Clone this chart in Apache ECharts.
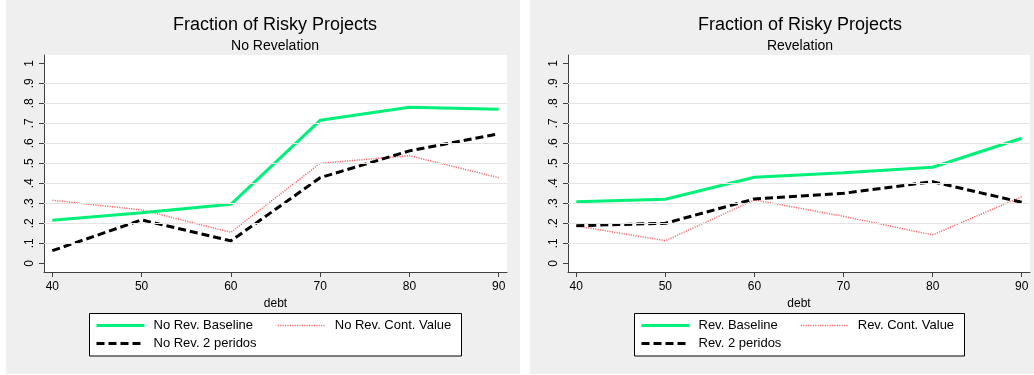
<!DOCTYPE html>
<html>
<head>
<meta charset="utf-8">
<script src="https://cdn.jsdelivr.net/npm/echarts@6/dist/echarts.min.js"></script>
<style>
  html, body { margin: 0; padding: 0; background: #ffffff; }
  #chart { width: 1034px; height: 375px; }
</style>
</head>
<body>
<div id="chart"></div>
<script>
// Debt levels on the horizontal axis
const debt = [40, 50, 60, 70, 80, 90];

// Fraction of risky projects, no revelation
const noRevBaseline = [0.215, 0.253, 0.295, 0.715, 0.780, 0.770];
const noRevContValue = [0.315, 0.267, 0.155, 0.500, 0.538, 0.428];
const noRevTwoPeriods = [0.063, 0.217, 0.112, 0.428, 0.562, 0.647];

// Fraction of risky projects, revelation
const revBaseline = [0.308, 0.320, 0.430, 0.453, 0.480, 0.625];
const revContValue = [0.187, 0.113, 0.317, 0.235, 0.142, 0.333];
const revTwoPeriods = [0.188, 0.200, 0.322, 0.350, 0.408, 0.305];

// Axis ticks
const xTicks = [40, 50, 60, 70, 80, 90];
const yTicks = [0, 0.1, 0.2, 0.3, 0.4, 0.5, 0.6, 0.7, 0.8, 0.9, 1];
const yTickLabels = ['0', '.1', '.2', '.3', '.4', '.5', '.6', '.7', '.8', '.9', '1'];
const gridValues = [0.1, 0.2, 0.3, 0.4, 0.5, 0.6, 0.7, 0.8, 0.9];

const FONT = '"Liberation Sans", Arial, Helvetica, sans-serif';
const GREEN = '#00f07a';
const RED = '#ff6a6a';
const BLACK = '#000000';

function pairs(ys) { return debt.map((x, i) => [x, ys[i]]); }

const styles = {
  base: { color: GREEN, width: 3, type: 'solid' },
  cont: { color: RED, width: 1.5, type: [1.2, 1.2] },
  two: { color: BLACK, width: 3, type: [8, 4] }
};

function lineSeries(name, ys, st, axisIndex) {
  return {
    name: name, type: 'line', xAxisIndex: axisIndex, yAxisIndex: axisIndex,
    data: pairs(ys), symbol: 'none', z: 3, silent: true,
    itemStyle: { color: st.color },
    lineStyle: { color: st.color, width: st.width, type: st.type }
  };
}

function gridSeries(axisIndex) {
  return {
    type: 'line', xAxisIndex: axisIndex, yAxisIndex: axisIndex, data: [],
    z: 1, silent: true,
    markLine: {
      silent: true, symbol: 'none', label: { show: false },
      lineStyle: { color: '#e4e4e4', width: 1, type: 'solid' },
      data: gridValues.map(v => ({ yAxis: v }))
    }
  };
}

function xAxis(gridIndex) {
  return {
    type: 'value', gridIndex: gridIndex, min: 39.07, max: 90.93,
    name: 'debt', nameLocation: 'middle', nameGap: 20,
    nameTextStyle: { fontFamily: FONT, fontSize: 12, color: '#000' },
    axisLine: { show: true, onZero: false, lineStyle: { color: '#404040', width: 1 } },
    axisTick: { show: true, length: 5, customValues: xTicks, lineStyle: { color: '#404040' } },
    axisLabel: { customValues: xTicks, margin: 9, fontFamily: FONT, fontSize: 12, color: '#000' },
    splitLine: { show: false }
  };
}

function yAxis(gridIndex) {
  return {
    type: 'value', gridIndex: gridIndex, min: -0.0435, max: 1.0415,
    axisLine: { show: true, onZero: false, lineStyle: { color: '#404040', width: 1 } },
    axisTick: { show: true, length: 5, customValues: yTicks, lineStyle: { color: '#404040' } },
    axisLabel: {
      customValues: yTicks, rotate: 90, margin: 8, fontFamily: FONT, fontSize: 12, color: '#000',
      formatter: v => yTickLabels[yTicks.findIndex(t => Math.abs(t - v) < 1e-6)]
    },
    splitLine: { show: false }
  };
}

// One legend entry: a line sample followed by its label (marker symbol hidden)
function legendItem(name, st, left, top) {
  return {
    data: [name], left: left, top: top, padding: 0,
    itemWidth: 48, itemHeight: 14, selectedMode: false,
    itemStyle: { opacity: 0 },
    lineStyle: { width: st.width },
    textStyle: { fontFamily: FONT, fontSize: 13, color: '#000', padding: [0, 0, 0, 4] }
  };
}

const chart = echarts.init(document.getElementById('chart'), null, { renderer: 'canvas' });

chart.setOption({
  animation: false,
  backgroundColor: '#ffffff',
  graphic: [
    { type: 'rect', z: -10, shape: { x: 6, y: 0, width: 514, height: 374 }, style: { fill: '#efefef' } },
    { type: 'rect', z: -10, shape: { x: 530, y: 0, width: 504, height: 374 }, style: { fill: '#efefef' } },
    { type: 'rect', z: -5, shape: { x: 89.5, y: 313.5, width: 372, height: 42.5 }, style: { fill: '#ffffff', stroke: '#000', lineWidth: 1 } },
    { type: 'rect', z: -5, shape: { x: 634.5, y: 313.5, width: 330, height: 42.5 }, style: { fill: '#ffffff', stroke: '#000', lineWidth: 1 } }
  ],
  title: [
    { text: 'Fraction of Risky Projects', left: 275, top: 16, textAlign: 'center', padding: 0,
      textStyle: { fontFamily: FONT, fontSize: 18, fontWeight: 'normal', color: '#000' } },
    { text: 'No Revelation', left: 275, top: 39, textAlign: 'center', padding: 0,
      textStyle: { fontFamily: FONT, fontSize: 14, fontWeight: 'normal', color: '#000' } },
    { text: 'Fraction of Risky Projects', left: 800, top: 16, textAlign: 'center', padding: 0,
      textStyle: { fontFamily: FONT, fontSize: 18, fontWeight: 'normal', color: '#000' } },
    { text: 'Revelation', left: 800, top: 39, textAlign: 'center', padding: 0,
      textStyle: { fontFamily: FONT, fontSize: 14, fontWeight: 'normal', color: '#000' } }
  ],
  legend: [
    legendItem('No Rev. Baseline', styles.base, 95, 319),
    legendItem('No Rev. Cont. Value', styles.cont, 277, 319),
    legendItem('No Rev. 2 peridos', styles.two, 95, 337),
    legendItem('Rev. Baseline', styles.base, 640, 319),
    legendItem('Rev. Cont. Value', styles.cont, 800, 319),
    legendItem('Rev. 2 peridos', styles.two, 640, 337)
  ],
  grid: [
    { left: 44, right: 527, top: 55, bottom: 103, show: true, backgroundColor: '#ffffff', borderWidth: 0 },
    { left: 568, right: 4, top: 55, bottom: 103, show: true, backgroundColor: '#ffffff', borderWidth: 0 }
  ],
  xAxis: [xAxis(0), xAxis(1)],
  yAxis: [yAxis(0), yAxis(1)],
  series: [
    gridSeries(0),
    gridSeries(1),
    lineSeries('No Rev. Cont. Value', noRevContValue, styles.cont, 0),
    lineSeries('No Rev. Baseline', noRevBaseline, styles.base, 0),
    lineSeries('No Rev. 2 peridos', noRevTwoPeriods, styles.two, 0),
    lineSeries('Rev. Cont. Value', revContValue, styles.cont, 1),
    lineSeries('Rev. Baseline', revBaseline, styles.base, 1),
    lineSeries('Rev. 2 peridos', revTwoPeriods, styles.two, 1)
  ]
});
</script>
</body>
</html>
